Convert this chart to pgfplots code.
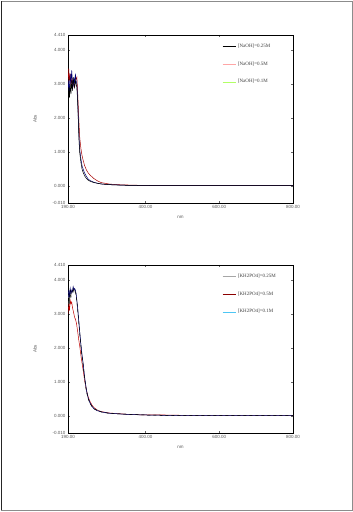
\documentclass[border=0pt]{standalone}
\usepackage{pgfplots}
\pgfplotsset{compat=1.18}
\usepackage{fontspec}
\setmainfont{Liberation Serif}
\setsansfont{Liberation Sans}
\begin{document}
\begin{tikzpicture}
\path[use as bounding box] (0pt,0pt) rectangle (353pt,512pt);
\draw[black!45, line width=0.8pt] (1pt,1.5pt) rectangle (352pt,511pt);
\draw[black!85, line width=0.9pt] (1pt,1.5pt) -- (1pt,511pt);
\pgfplotsset{
  specstyle/.style={
    scale only axis, width=225pt, height=168pt,
    anchor=south west,
    xmin=190, xmax=800, ymin=-0.5, ymax=4.44,
    xtick={190,400,600,800},
    xticklabels={190.00,400.00,600.00,800.00},
    ytick={-0.5,0,1,2,3,4,4.44},
    yticklabels={-0.010,0.000,1.000,2.000,3.000,4.000,4.410},
    tick align=inside, major tick length=2pt,
    tick style={black!60, line width=0.4pt},
    axis line style={black, line width=0.6pt},
    ticklabel style={font=\sffamily\fontsize{4.5}{5}\selectfont, text=black!65},
    /pgf/number format/assume math mode=true,
    xticklabel style={yshift=1pt},
    yticklabel style={xshift=1pt},
    label style={font=\sffamily\fontsize{4.5}{5}\selectfont, text=black!65},
    ylabel={Abs},
    ylabel style={at={(axis description cs:-0.147,0.5)}, anchor=center, rotate=0},
    xlabel={nm},
    xlabel style={at={(axis description cs:0.5,-0.085)}, anchor=center},
    legend style={draw=none, fill=none, font=\rmfamily\fontsize{5}{6}\selectfont,
      text=black!75, row sep=8.6pt, legend cell align=left,
      at={(axis description cs:0.684,0.958)}, anchor=north west, inner sep=0pt},
    legend image code/.code={\draw[##1] (0pt,0pt) -- (13pt,0pt);},
    every axis plot/.append style={line width=0.5pt},
  }
}
% ---------------- top: NaOH ----------------
\begin{axis}[specstyle, at={(68pt,309pt)}]
\addlegendimage{black, line width=0.8pt}
\addlegendentry{[NaOH]=0.25M}
\addlegendimage{red!35, line width=0.5pt}
\addlegendentry{[NaOH]=0.5M}
\addlegendimage{green!50!yellow!60, line width=0.5pt}
\addlegendentry{[NaOH]=0.1M}
\addplot[forget plot, red!65!black] coordinates {
(190,3.0) (192,3.45) (194,3.1) (196,3.3) (198,2.9) (200,3.2) (202,3.0) (204,3.1)
(206,2.95) (208,2.9) (210,3.2) (212,3.15) (214,3.2) (216,2.8) (218,2.3) (220,1.8)
(222,1.4) (225,1.1) (228,0.9) (231,0.76) (235,0.6) (240,0.47) (245,0.38) (250,0.32)
(260,0.22) (270,0.15) (280,0.1) (300,0.06) (320,0.04) (350,0.03) (400,0.015) (500,0.01) (800,0.01)};
\addplot[forget plot, blue!45!black] coordinates {
(190,2.8) (192,3.1) (194,2.7) (196,3.3) (198,3.0) (200,3.4) (202,3.1) (204,2.9)
(206,3.2) (208,3.0) (210,3.3) (212,3.1) (214,3.0) (216,2.6) (218,2.0) (220,1.4)
(222,1.05) (225,0.8) (228,0.6) (231,0.5) (235,0.38) (240,0.28) (245,0.2) (250,0.16)
(260,0.11) (270,0.08) (280,0.06) (300,0.04) (350,0.02) (400,0.015) (500,0.01) (800,0.01)};
\addplot[forget plot, black] coordinates {
(190,2.4) (192,2.9) (194,2.6) (196,3.0) (198,2.7) (200,3.1) (202,2.8) (204,3.2)
(206,3.0) (208,2.9) (210,3.1) (212,3.0) (214,2.9) (216,2.5) (218,1.9) (220,1.3)
(222,0.95) (225,0.7) (228,0.5) (231,0.4) (235,0.3) (240,0.22) (245,0.17) (250,0.14)
(260,0.1) (270,0.08) (280,0.06) (300,0.04) (320,0.03) (350,0.02) (400,0.01) (500,0.01) (800,0.01)};
\end{axis}
% ---------------- bottom: KH2PO4 ----------------
\begin{axis}[specstyle, at={(68pt,79pt)}]
\addlegendimage{black!35, line width=0.5pt}
\addlegendentry{[KH2PO4]=0.25M}
\addlegendimage{red!55!black, line width=0.8pt}
\addlegendentry{[KH2PO4]=0.5M}
\addlegendimage{cyan!70, line width=0.5pt}
\addlegendentry{[KH2PO4]=0.1M}
\addplot[forget plot, red!75!black] coordinates {
(190,3.0) (192,3.3) (194,3.1) (196,3.4) (198,3.3) (200,3.35) (202,3.2) (204,3.1)
(206,3.0) (208,2.9) (210,2.85) (213,2.73) (216,2.5) (219,2.25) (222,2.04) (226,1.7)
(231,1.35) (235,1.05) (240,0.76) (245,0.55) (250,0.42) (255,0.32) (260,0.25) (270,0.17)
(280,0.13) (300,0.09) (350,0.05) (400,0.03) (450,0.03) (500,0.02) (800,0.01)};
\addplot[forget plot, black!55] coordinates {
(190,3.3) (192,3.65) (194,3.4) (196,3.72) (198,3.55) (200,3.65) (202,3.68) (204,3.78)
(206,3.68) (208,3.72) (210,3.68) (212,3.58) (214,3.38) (216,3.18) (218,2.93) (220,2.68)
(222,2.43) (225,2.08) (228,1.78) (231,1.53) (235,1.13) (240,0.74) (245,0.51) (250,0.37)
(260,0.22) (280,0.12) (300,0.08) (350,0.05) (400,0.03) (500,0.01) (800,0.01)};
\addplot[forget plot, blue!40!black] coordinates {
(190,3.4) (192,3.7) (194,3.5) (196,3.75) (198,3.6) (200,3.7) (202,3.65) (204,3.8)
(206,3.7) (208,3.75) (210,3.7) (212,3.6) (214,3.4) (216,3.2) (218,2.95) (220,2.7)
(222,2.45) (225,2.1) (228,1.8) (231,1.55) (235,1.15) (240,0.76) (245,0.52) (250,0.38)
(255,0.28) (260,0.22) (268,0.16) (280,0.12) (304,0.08) (330,0.06) (367,0.04) (400,0.03)
(450,0.02) (500,0.01) (800,0.01)};
\addplot[forget plot, black, dashed] coordinates {
(190,3.2) (192,3.6) (194,3.3) (196,3.7) (198,3.5) (200,3.6) (202,3.7) (204,3.75)
(206,3.65) (208,3.7) (210,3.65) (212,3.55) (214,3.35) (216,3.15) (218,2.9) (220,2.65)
(222,2.4) (225,2.05) (228,1.75) (231,1.5) (235,1.1) (240,0.72) (245,0.5) (250,0.36)
(260,0.21) (280,0.12) (300,0.08) (350,0.05) (400,0.03) (500,0.01) (800,0.01)};
\end{axis}
\end{tikzpicture}
\end{document}
